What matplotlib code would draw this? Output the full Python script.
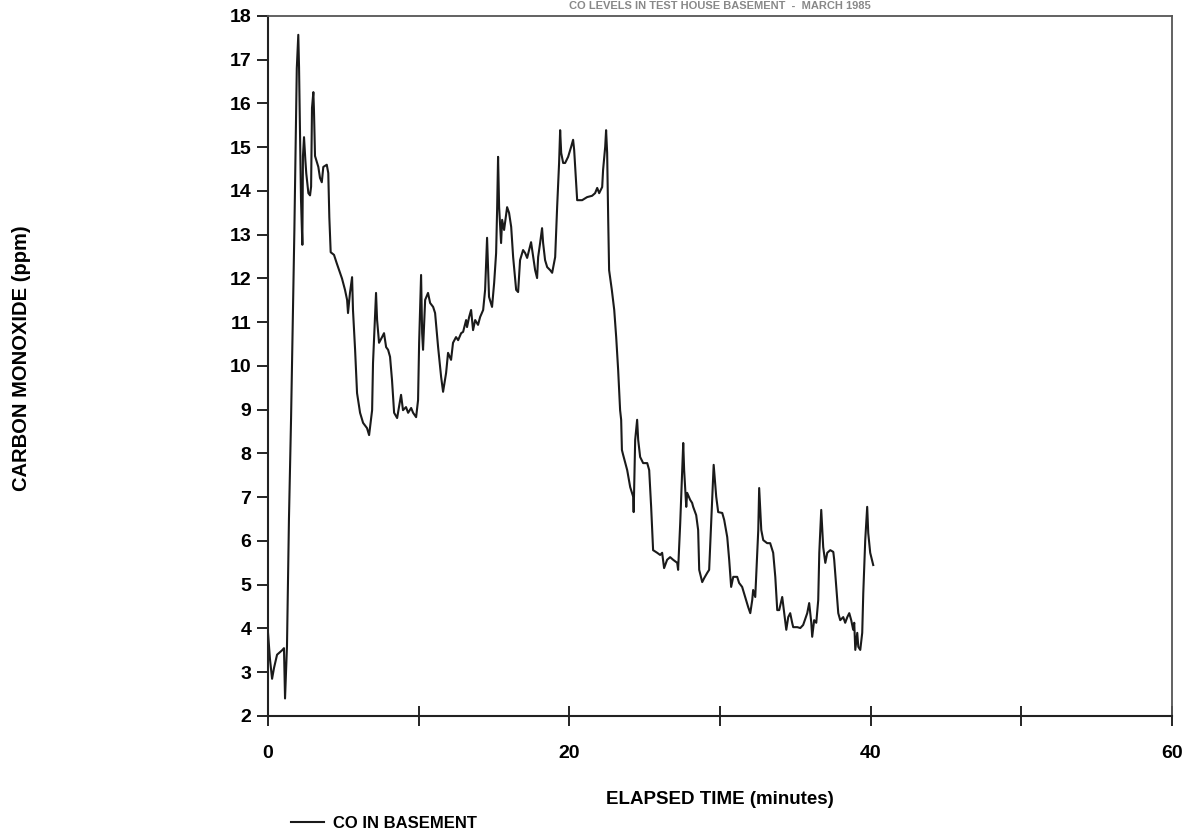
import matplotlib
matplotlib.use("Agg")
import matplotlib.pyplot as plt

# CO readings in the basement, elapsed minutes vs ppm
minutes = [
    0.00, 0.13, 0.27, 0.40, 0.60, 0.93, 1.06, 1.13, 1.26, 1.39,
    1.53, 1.66, 1.75, 1.84, 1.91, 2.01, 2.06, 2.12, 2.19, 2.28,
    2.32, 2.39, 2.48, 2.54, 2.68, 2.79, 2.86, 2.92, 3.01, 3.05,
    3.12, 3.34, 3.45, 3.57, 3.67, 3.90, 4.00, 4.07, 4.16, 4.38,
    4.56, 4.91, 5.11, 5.25, 5.31, 5.44, 5.58, 5.64, 5.78, 5.91,
    6.11, 6.31, 6.57, 6.71, 6.91, 6.97, 7.17, 7.24, 7.37, 7.57,
    7.70, 7.84, 7.97, 8.10, 8.23, 8.37, 8.57, 8.63, 8.83, 8.96,
    9.16, 9.30, 9.50, 9.63, 9.83, 9.96, 10.03, 10.16, 10.23, 10.29,
    10.43, 10.62, 10.76, 10.96, 11.09, 11.29, 11.49, 11.62, 11.82, 11.95,
    12.15, 12.28, 12.48, 12.62, 12.82, 12.95, 13.15, 13.21, 13.35, 13.48,
    13.61, 13.75, 13.94, 14.08, 14.28, 14.41, 14.54, 14.61, 14.67, 14.87,
    15.01, 15.14, 15.21, 15.27, 15.34, 15.47, 15.54, 15.67, 15.87, 16.00,
    16.14, 16.27, 16.47, 16.60, 16.73, 16.93, 17.07, 17.20, 17.33, 17.46,
    17.60, 17.73, 17.86, 17.93, 18.06, 18.19, 18.26, 18.39, 18.53, 18.73,
    18.86, 19.06, 19.19, 19.32, 19.39, 19.46, 19.59, 19.72, 19.92, 20.12,
    20.25, 20.32, 20.45, 20.52, 20.85, 21.18, 21.51, 21.71, 21.85, 21.98,
    22.18, 22.24, 22.38, 22.44, 22.51, 22.58, 22.64, 22.82, 22.98, 23.11,
    23.24, 23.37, 23.44, 23.49, 23.57, 23.84, 24.04, 24.24, 24.27, 24.37,
    24.50, 24.57, 24.70, 24.90, 25.17, 25.30, 25.43, 25.56, 25.83, 26.03,
    26.16, 26.29, 26.49, 26.69, 26.89, 27.16, 27.22, 27.36, 27.56, 27.62,
    27.76, 27.82, 28.02, 28.15, 28.22, 28.42, 28.55, 28.62, 28.82, 28.95,
    29.15, 29.28, 29.42, 29.58, 29.75, 29.88, 30.15, 30.28, 30.48, 30.61,
    30.74, 30.88, 31.14, 31.27, 31.47, 31.67, 31.87, 32.01, 32.14, 32.20,
    32.34, 32.47, 32.54, 32.60, 32.74, 32.87, 33.13, 33.33, 33.53, 33.67,
    33.80, 33.93, 34.13, 34.26, 34.40, 34.53, 34.66, 34.79, 34.86, 35.13,
    35.33, 35.52, 35.79, 35.92, 36.06, 36.12, 36.25, 36.39, 36.52, 36.59,
    36.72, 36.79, 36.85, 36.99, 37.12, 37.32, 37.52, 37.58, 37.72, 37.85,
    37.98, 38.18, 38.31, 38.45, 38.58, 38.71, 38.84, 38.91, 38.98, 39.11,
    39.18, 39.31, 39.44, 39.51, 39.64, 39.77, 39.84, 39.97, 40.17,
]
co_ppm = [
    3.90, 3.30, 2.85, 3.10, 3.40, 3.50, 3.55, 2.40, 3.60, 6.50,
    8.80, 11.30, 13.10, 15.20, 16.80, 17.57, 16.83, 15.40, 13.80, 12.77,
    14.80, 15.23, 14.70, 14.40, 13.95, 13.90, 14.10, 15.90, 16.26, 15.85,
    14.80, 14.55, 14.30, 14.20, 14.55, 14.60, 14.41, 13.40, 12.60, 12.54,
    12.35, 12.00, 11.74, 11.51, 11.21, 11.67, 12.03, 11.28, 10.37, 9.38,
    8.93, 8.70, 8.58, 8.42, 8.99, 10.07, 11.67, 11.05, 10.53, 10.66,
    10.75, 10.43, 10.37, 10.21, 9.68, 8.93, 8.81, 8.93, 9.34, 8.99,
    9.06, 8.93, 9.04, 8.93, 8.83, 9.22, 10.53, 12.08, 10.75, 10.37,
    11.51, 11.67, 11.44, 11.35, 11.21, 10.43, 9.75, 9.41, 9.84, 10.30,
    10.14, 10.53, 10.66, 10.59, 10.75, 10.78, 11.05, 10.89, 11.12, 11.28,
    10.82, 11.05, 10.94, 11.12, 11.28, 11.74, 12.93, 12.19, 11.58, 11.35,
    11.90, 12.58, 13.63, 14.78, 13.63, 12.81, 13.34, 13.11, 13.63, 13.50,
    13.18, 12.49, 11.74, 11.69, 12.42, 12.65, 12.58, 12.47, 12.65, 12.83,
    12.49, 12.19, 12.01, 12.49, 12.81, 13.15, 12.81, 12.42, 12.26, 12.19,
    12.13, 12.49, 13.63, 14.64, 15.39, 14.87, 14.64, 14.64, 14.78, 15.01,
    15.17, 14.94, 14.18, 13.79, 13.79, 13.86, 13.89, 13.95, 14.07, 13.95,
    14.09, 14.48, 15.01, 15.39, 14.87, 13.34, 12.19, 11.74, 11.28, 10.66,
    9.91, 8.99, 8.77, 8.08, 7.97, 7.62, 7.23, 7.01, 6.66, 8.31,
    8.77, 8.31, 7.92, 7.78, 7.78, 7.62, 6.78, 5.79, 5.73, 5.68,
    5.73, 5.38, 5.57, 5.63, 5.57, 5.50, 5.34, 6.41, 8.24, 7.62,
    6.78, 7.10, 6.94, 6.87, 6.78, 6.59, 6.25, 5.34, 5.06, 5.15,
    5.27, 5.34, 6.48, 7.74, 7.01, 6.66, 6.64, 6.48, 6.09, 5.57,
    4.95, 5.18, 5.18, 5.04, 4.95, 4.72, 4.49, 4.35, 4.65, 4.88,
    4.72, 5.73, 6.25, 7.21, 6.25, 6.02, 5.95, 5.95, 5.73, 5.18,
    4.42, 4.42, 4.72, 4.35, 3.97, 4.26, 4.35, 4.13, 4.03, 4.03,
    4.01, 4.08, 4.35, 4.58, 4.13, 3.81, 4.19, 4.13, 4.65, 5.73,
    6.71, 6.25, 5.86, 5.50, 5.73, 5.79, 5.75, 5.57, 4.95, 4.35,
    4.19, 4.26, 4.13, 4.26, 4.35, 4.19, 3.97, 4.13, 3.51, 3.90,
    3.58, 3.51, 3.90, 4.81, 6.02, 6.78, 6.18, 5.73, 5.45,
]

x_ticks = [0, 10, 20, 30, 40, 50, 60]
x_tick_labels = ["0", "", "20", "", "40", "", "60"]
y_ticks = list(range(2, 19))

plt.rcParams["font.family"] = ["Liberation Sans", "DejaVu Sans"]
plt.rcParams["font.weight"] = "bold"

fig = plt.figure(figsize=(11.97, 8.33), dpi=100)
ax = fig.add_axes([0.2239, 0.1405, 0.7552, 0.8403])

line, = ax.plot(minutes, co_ppm, color="#1a1a1a", linewidth=1.5, label="CO IN BASEMENT")

ax.set_xlim(0, 60)
ax.set_ylim(2, 18)
ax.set_xticks(x_ticks)
ax.set_xticklabels(x_tick_labels)
ax.set_yticks(y_ticks)
ax.tick_params(axis="x", direction="inout", length=14, width=1.2, pad=14, labelsize=14)
ax.tick_params(axis="y", direction="out", length=8, width=1.2, pad=4, labelsize=14)

for side in ["left", "bottom"]:
    ax.spines[side].set_linewidth(1.5)
    ax.spines[side].set_color("#222222")
for side in ["top", "right"]:
    ax.spines[side].set_linewidth(1.3)
    ax.spines[side].set_color("#555555")

ax.set_xlabel("ELAPSED TIME (minutes)", fontsize=13.5, fontweight="bold", labelpad=21)
fig.text(0.018, 0.570, "CARBON MONOXIDE (ppm)", rotation=90, fontsize=14.5,
         fontweight="bold", ha="center", va="center")

# small title squeezed above the frame
fig.text(0.6015, 0.999, "CO LEVELS IN TEST HOUSE BASEMENT  -  MARCH 1985",
         fontsize=8, fontweight="bold", color="#888888", ha="center", va="top")

fig.legend(handles=[line], loc="center left", bbox_to_anchor=(0.243, 0.012),
           frameon=False, fontsize=12, handlelength=2.0, handletextpad=0.5,
           borderaxespad=0, borderpad=0)

fig.savefig("out.png", dpi=100)
